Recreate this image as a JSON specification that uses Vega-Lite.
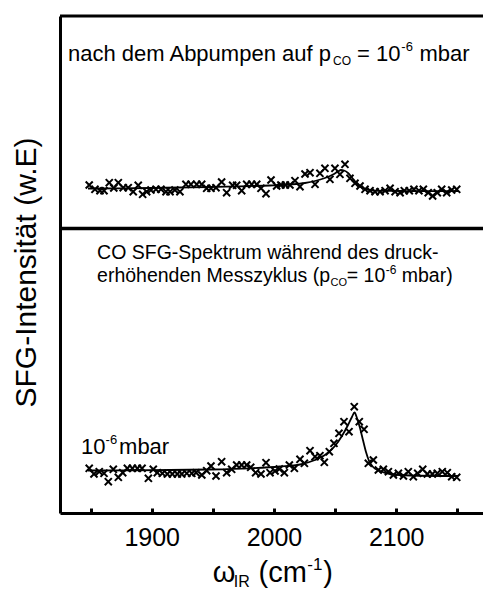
{
  "$schema": "https://vega.github.io/schema/vega-lite/v6.json",
  "width": 423,
  "height": 497,
  "autosize": "none",
  "padding": {"left": 60, "top": 16, "right": 0, "bottom": 78},
  "background": "white",
  "config": {"view": {"stroke": null}, "font": "Liberation Sans", "text": {"font": "Liberation Sans", "color": "black", "align": "left", "baseline": "alphabetic"}},
  "datasets": {
    "one": [{}],
    "top": [
      {"wavenumber": 1848.9, "intensity": 0.87}, {"wavenumber": 1853.6, "intensity": 0.784}, {"wavenumber": 1857.7, "intensity": 0.756}, {"wavenumber": 1861.0, "intensity": 0.756},
      {"wavenumber": 1865.3, "intensity": 0.916}, {"wavenumber": 1869.0, "intensity": 0.81}, {"wavenumber": 1872.7, "intensity": 0.916}, {"wavenumber": 1876.7, "intensity": 0.816},
      {"wavenumber": 1880.8, "intensity": 0.816}, {"wavenumber": 1884.9, "intensity": 0.736}, {"wavenumber": 1889.0, "intensity": 0.864}, {"wavenumber": 1892.6, "intensity": 0.684},
      {"wavenumber": 1895.9, "intensity": 0.736}, {"wavenumber": 1899.4, "intensity": 0.77}, {"wavenumber": 1903.5, "intensity": 0.784}, {"wavenumber": 1907.6, "intensity": 0.784},
      {"wavenumber": 1911.7, "intensity": 0.736}, {"wavenumber": 1915.0, "intensity": 0.736}, {"wavenumber": 1919.0, "intensity": 0.77}, {"wavenumber": 1923.1, "intensity": 0.736},
      {"wavenumber": 1928.0, "intensity": 0.884}, {"wavenumber": 1932.1, "intensity": 0.884}, {"wavenumber": 1936.8, "intensity": 0.884}, {"wavenumber": 1940.9, "intensity": 0.884},
      {"wavenumber": 1945.0, "intensity": 0.804}, {"wavenumber": 1948.5, "intensity": 0.804}, {"wavenumber": 1952.6, "intensity": 0.816}, {"wavenumber": 1957.2, "intensity": 0.93},
      {"wavenumber": 1961.3, "intensity": 0.716}, {"wavenumber": 1966.2, "intensity": 0.864}, {"wavenumber": 1969.5, "intensity": 0.864}, {"wavenumber": 1973.6, "intensity": 0.756},
      {"wavenumber": 1977.7, "intensity": 0.884}, {"wavenumber": 1981.8, "intensity": 0.884}, {"wavenumber": 1985.9, "intensity": 0.884}, {"wavenumber": 1989.4, "intensity": 0.804},
      {"wavenumber": 1993.5, "intensity": 0.696}, {"wavenumber": 1997.6, "intensity": 0.97}, {"wavenumber": 2002.2, "intensity": 0.85}, {"wavenumber": 2005.7, "intensity": 0.87},
      {"wavenumber": 2009.4, "intensity": 0.87}, {"wavenumber": 2013.1, "intensity": 0.87}, {"wavenumber": 2017.2, "intensity": 0.956}, {"wavenumber": 2021.3, "intensity": 0.836},
      {"wavenumber": 2025.4, "intensity": 1.09}, {"wavenumber": 2029.5, "intensity": 1.116}, {"wavenumber": 2033.6, "intensity": 0.884}, {"wavenumber": 2037.6, "intensity": 1.104},
      {"wavenumber": 2041.7, "intensity": 1.204}, {"wavenumber": 2045.8, "intensity": 0.984}, {"wavenumber": 2049.9, "intensity": 1.204}, {"wavenumber": 2054.0, "intensity": 1.084},
      {"wavenumber": 2058.1, "intensity": 1.284}, {"wavenumber": 2062.2, "intensity": 1.004}, {"wavenumber": 2066.3, "intensity": 0.904}, {"wavenumber": 2070.4, "intensity": 0.85},
      {"wavenumber": 2074.5, "intensity": 0.784}, {"wavenumber": 2078.6, "intensity": 0.756}, {"wavenumber": 2082.7, "intensity": 0.736}, {"wavenumber": 2086.8, "intensity": 0.736},
      {"wavenumber": 2090.9, "intensity": 0.756}, {"wavenumber": 2095.0, "intensity": 0.804}, {"wavenumber": 2099.1, "intensity": 0.736}, {"wavenumber": 2103.2, "intensity": 0.716},
      {"wavenumber": 2106.6, "intensity": 0.756}, {"wavenumber": 2110.7, "intensity": 0.756}, {"wavenumber": 2114.5, "intensity": 0.784}, {"wavenumber": 2118.6, "intensity": 0.756},
      {"wavenumber": 2122.2, "intensity": 0.784}, {"wavenumber": 2126.2, "intensity": 0.716}, {"wavenumber": 2129.8, "intensity": 0.65}, {"wavenumber": 2133.6, "intensity": 0.716},
      {"wavenumber": 2137.2, "intensity": 0.784}, {"wavenumber": 2141.3, "intensity": 0.716}, {"wavenumber": 2145.4, "intensity": 0.77}, {"wavenumber": 2149.5, "intensity": 0.784}
    ],
    "topfit": [
      {"wavenumber": 1847.9, "intensity": 0.80}, {"wavenumber": 1874.0, "intensity": 0.804}, {"wavenumber": 1898.6, "intensity": 0.81}, {"wavenumber": 1923.1, "intensity": 0.82},
      {"wavenumber": 1947.6, "intensity": 0.83}, {"wavenumber": 1972.2, "intensity": 0.844}, {"wavenumber": 1996.7, "intensity": 0.86}, {"wavenumber": 2013.1, "intensity": 0.88},
      {"wavenumber": 2025.4, "intensity": 0.91}, {"wavenumber": 2033.6, "intensity": 0.95}, {"wavenumber": 2041.7, "intensity": 1.01}, {"wavenumber": 2048.3, "intensity": 1.08},
      {"wavenumber": 2052.4, "intensity": 1.14}, {"wavenumber": 2054.8, "intensity": 1.17}, {"wavenumber": 2057.3, "intensity": 1.16}, {"wavenumber": 2060.6, "intensity": 1.11},
      {"wavenumber": 2063.8, "intensity": 1.02}, {"wavenumber": 2067.1, "intensity": 0.92}, {"wavenumber": 2070.4, "intensity": 0.84}, {"wavenumber": 2074.5, "intensity": 0.79},
      {"wavenumber": 2078.6, "intensity": 0.766}, {"wavenumber": 2086.8, "intensity": 0.754}, {"wavenumber": 2103.2, "intensity": 0.75}, {"wavenumber": 2127.7, "intensity": 0.746},
      {"wavenumber": 2150.6, "intensity": 0.746}
    ],
    "bottom": [
      {"wavenumber": 1848.9, "intensity": 0.894}, {"wavenumber": 1852.8, "intensity": 0.78}, {"wavenumber": 1857.1, "intensity": 0.826}, {"wavenumber": 1861.0, "intensity": 0.794},
      {"wavenumber": 1864.5, "intensity": 0.626}, {"wavenumber": 1868.6, "intensity": 0.874}, {"wavenumber": 1872.7, "intensity": 0.714}, {"wavenumber": 1876.3, "intensity": 0.806},
      {"wavenumber": 1880.1, "intensity": 0.894}, {"wavenumber": 1884.2, "intensity": 0.894}, {"wavenumber": 1888.3, "intensity": 0.894}, {"wavenumber": 1892.1, "intensity": 0.894},
      {"wavenumber": 1897.3, "intensity": 0.694}, {"wavenumber": 1901.3, "intensity": 0.874}, {"wavenumber": 1904.6, "intensity": 0.806}, {"wavenumber": 1908.7, "intensity": 0.794},
      {"wavenumber": 1912.8, "intensity": 0.78}, {"wavenumber": 1916.9, "intensity": 0.78}, {"wavenumber": 1921.0, "intensity": 0.78}, {"wavenumber": 1924.6, "intensity": 0.78},
      {"wavenumber": 1928.7, "intensity": 0.794}, {"wavenumber": 1932.8, "intensity": 0.794}, {"wavenumber": 1936.3, "intensity": 0.806}, {"wavenumber": 1941.0, "intensity": 0.76},
      {"wavenumber": 1945.0, "intensity": 0.846}, {"wavenumber": 1948.5, "intensity": 0.94}, {"wavenumber": 1952.6, "intensity": 0.74}, {"wavenumber": 1957.2, "intensity": 1.026},
      {"wavenumber": 1961.3, "intensity": 0.806}, {"wavenumber": 1965.4, "intensity": 0.874}, {"wavenumber": 1969.5, "intensity": 0.96}, {"wavenumber": 1973.6, "intensity": 0.96},
      {"wavenumber": 1977.7, "intensity": 0.96}, {"wavenumber": 1981.0, "intensity": 0.914}, {"wavenumber": 1985.0, "intensity": 0.806}, {"wavenumber": 1989.4, "intensity": 0.78},
      {"wavenumber": 1993.5, "intensity": 1.006}, {"wavenumber": 1996.8, "intensity": 0.806}, {"wavenumber": 2000.9, "intensity": 0.84}, {"wavenumber": 2004.4, "intensity": 0.88},
      {"wavenumber": 2008.5, "intensity": 0.806}, {"wavenumber": 2012.6, "intensity": 0.96}, {"wavenumber": 2016.7, "intensity": 0.894}, {"wavenumber": 2021.3, "intensity": 1.074},
      {"wavenumber": 2024.9, "intensity": 0.994}, {"wavenumber": 2029.5, "intensity": 1.246}, {"wavenumber": 2033.6, "intensity": 1.126}, {"wavenumber": 2037.6, "intensity": 1.146},
      {"wavenumber": 2041.2, "intensity": 1.014}, {"wavenumber": 2045.3, "intensity": 1.226}, {"wavenumber": 2049.1, "intensity": 1.394}, {"wavenumber": 2053.2, "intensity": 1.594},
      {"wavenumber": 2057.3, "intensity": 1.826}, {"wavenumber": 2061.4, "intensity": 1.626}, {"wavenumber": 2065.7, "intensity": 2.126}, {"wavenumber": 2069.8, "intensity": 1.826},
      {"wavenumber": 2073.7, "intensity": 1.674}, {"wavenumber": 2077.2, "intensity": 0.994}, {"wavenumber": 2081.3, "intensity": 1.06}, {"wavenumber": 2085.4, "intensity": 0.86},
      {"wavenumber": 2089.5, "intensity": 0.874}, {"wavenumber": 2093.6, "intensity": 0.826}, {"wavenumber": 2097.7, "intensity": 0.76}, {"wavenumber": 2101.8, "intensity": 0.794},
      {"wavenumber": 2105.9, "intensity": 0.74}, {"wavenumber": 2109.9, "intensity": 0.826}, {"wavenumber": 2114.0, "intensity": 0.726}, {"wavenumber": 2117.6, "intensity": 0.794},
      {"wavenumber": 2121.7, "intensity": 0.874}, {"wavenumber": 2125.5, "intensity": 0.78}, {"wavenumber": 2129.6, "intensity": 0.78}, {"wavenumber": 2133.6, "intensity": 0.794},
      {"wavenumber": 2137.7, "intensity": 0.826}, {"wavenumber": 2141.8, "intensity": 0.806}, {"wavenumber": 2145.4, "intensity": 0.726}, {"wavenumber": 2149.5, "intensity": 0.714}
    ],
    "bottomfit": [
      {"wavenumber": 1847.9, "intensity": 0.85}, {"wavenumber": 1882.2, "intensity": 0.854}, {"wavenumber": 1914.9, "intensity": 0.86}, {"wavenumber": 1947.6, "intensity": 0.87},
      {"wavenumber": 1980.3, "intensity": 0.894}, {"wavenumber": 2004.9, "intensity": 0.93}, {"wavenumber": 2021.3, "intensity": 0.97}, {"wavenumber": 2033.6, "intensity": 1.06},
      {"wavenumber": 2041.7, "intensity": 1.16}, {"wavenumber": 2049.9, "intensity": 1.34}, {"wavenumber": 2055.6, "intensity": 1.54}, {"wavenumber": 2060.6, "intensity": 1.76},
      {"wavenumber": 2063.8, "intensity": 1.92}, {"wavenumber": 2065.9, "intensity": 2.01}, {"wavenumber": 2067.9, "intensity": 1.90}, {"wavenumber": 2070.4, "intensity": 1.70},
      {"wavenumber": 2072.8, "intensity": 1.46}, {"wavenumber": 2075.3, "intensity": 1.22}, {"wavenumber": 2077.8, "intensity": 1.04}, {"wavenumber": 2081.1, "intensity": 0.92},
      {"wavenumber": 2086.8, "intensity": 0.84}, {"wavenumber": 2095.0, "intensity": 0.78}, {"wavenumber": 2111.4, "intensity": 0.75}, {"wavenumber": 2150.6, "intensity": 0.74}
    ]
  },
  "layer": [
    {
      "layer": [
        {
          "data": {"name": "bottom"},
          "mark": {"type": "point", "shape": "M-1,-1L1,1M-1,1L1,-1", "filled": false, "color": "black", "strokeWidth": 2, "size": 50, "opacity": 1},
          "encoding": {
            "x": {"field": "wavenumber", "type": "quantitative", "scale": {"domain": [1825, 2171], "nice": false, "zero": false},
              "axis": {"values": [1850, 1900, 1950, 2000, 2050, 2100, 2150], "format": "d", "labelExpr": "datum.value % 100 == 0 ? datum.label : ''",
                "title": null, "grid": false, "domainColor": "black", "domainWidth": 3, "tickColor": "black", "tickWidth": 3, "tickSize": -5,
                "labelFontSize": 25, "labelColor": "black", "labelFont": "Liberation Sans", "labelBaseline": "alphabetic", "labelPadding": 37, "labelFlush": false, "labelOverlap": false}},
            "y": {"field": "intensity", "type": "quantitative", "scale": {"domain": [0, 9.94], "nice": false, "zero": false},
              "axis": {"ticks": false, "labels": false, "grid": false, "domainColor": "black", "domainWidth": 3,
                "title": "SFG-Intensität (w.E)", "titleFontSize": 30, "titleFont": "Liberation Sans", "titleFontWeight": "normal", "titleColor": "black",
                "titleAngle": 270, "titleAlign": "center", "titleBaseline": "alphabetic", "titleX": -25, "titleY": 256}}
          }
        },
        {
          "data": {"name": "bottomfit"},
          "mark": {"type": "line", "color": "black", "strokeWidth": 1.8, "interpolate": "monotone"},
          "encoding": {
            "x": {"field": "wavenumber", "type": "quantitative"},
            "y": {"field": "intensity", "type": "quantitative"}
          }
        },
        {"data": {"name": "one"}, "mark": {"type": "text", "text": "CO SFG-Spektrum während des druck-", "fontSize": 19.5}, "encoding": {"x": {"datum": 1855.3}, "y": {"datum": 5.08}}},
        {"data": {"name": "one"}, "mark": {"type": "text", "text": "erhöhenden Messzyklus (p", "fontSize": 19.5}, "encoding": {"x": {"datum": 1855.3}, "y": {"datum": 4.62}}},
        {"data": {"name": "one"}, "mark": {"type": "text", "text": "CO", "fontSize": 11, "dy": 4}, "encoding": {"x": {"datum": 2046.3}, "y": {"datum": 4.62}}},
        {"data": {"name": "one"}, "mark": {"type": "text", "text": "= 10", "fontSize": 19.5}, "encoding": {"x": {"datum": 2059.6}, "y": {"datum": 4.62}}},
        {"data": {"name": "one"}, "mark": {"type": "text", "text": "-6", "fontSize": 12, "dy": -8}, "encoding": {"x": {"datum": 2091.5}, "y": {"datum": 4.62}}},
        {"data": {"name": "one"}, "mark": {"type": "text", "text": "mbar)", "fontSize": 19.5}, "encoding": {"x": {"datum": 2104.5}, "y": {"datum": 4.62}}},
        {"data": {"name": "one"}, "mark": {"type": "text", "text": "10", "fontSize": 22}, "encoding": {"x": {"datum": 1842.2}, "y": {"datum": 1.18}}},
        {"data": {"name": "one"}, "mark": {"type": "text", "text": "-6", "fontSize": 13, "dy": -10}, "encoding": {"x": {"datum": 1862.3}, "y": {"datum": 1.18}}},
        {"data": {"name": "one"}, "mark": {"type": "text", "text": "mbar", "fontSize": 22}, "encoding": {"x": {"datum": 1873.3}, "y": {"datum": 1.18}}},
        {"data": {"name": "one"}, "mark": {"type": "text", "text": "ω", "fontSize": 29}, "encoding": {"x": {"datum": 1950.0}, "y": {"datum": -1.38}}},
        {"data": {"name": "one"}, "mark": {"type": "text", "text": "IR", "fontSize": 16, "dy": 5}, "encoding": {"x": {"datum": 1967.2}, "y": {"datum": -1.38}}},
        {"data": {"name": "one"}, "mark": {"type": "text", "text": "(cm", "fontSize": 29}, "encoding": {"x": {"datum": 1987.4}, "y": {"datum": -1.38}}},
        {"data": {"name": "one"}, "mark": {"type": "text", "text": "-1", "fontSize": 17, "dy": -12}, "encoding": {"x": {"datum": 2027.3}, "y": {"datum": -1.38}}},
        {"data": {"name": "one"}, "mark": {"type": "text", "text": ")", "fontSize": 29}, "encoding": {"x": {"datum": 2040.3}, "y": {"datum": -1.38}}}
      ]
    },
    {
      "layer": [
        {
          "data": {"name": "top"},
          "mark": {"type": "point", "shape": "M-1,-1L1,1M-1,1L1,-1", "filled": false, "color": "black", "strokeWidth": 2, "size": 50, "opacity": 1},
          "encoding": {
            "x": {"field": "wavenumber", "type": "quantitative"},
            "y": {"field": "intensity", "type": "quantitative", "scale": {"domain": [-5.69, 4.25], "nice": false, "zero": false}, "axis": null}
          }
        },
        {
          "data": {"name": "topfit"},
          "mark": {"type": "line", "color": "black", "strokeWidth": 1.8, "interpolate": "monotone"},
          "encoding": {
            "x": {"field": "wavenumber", "type": "quantitative"},
            "y": {"field": "intensity", "type": "quantitative", "axis": null}
          }
        },
        {"data": {"name": "one"}, "mark": {"type": "rule", "color": "black", "strokeWidth": 3.5}, "encoding": {"y": {"datum": 0}}},
        {"data": {"name": "one"}, "mark": {"type": "rule", "color": "black", "strokeWidth": 3}, "encoding": {"y": {"datum": 4.25}}},
        {"data": {"name": "one"}, "mark": {"type": "text", "text": "nach dem Abpumpen auf p", "fontSize": 22}, "encoding": {"x": {"datum": 1831.5}, "y": {"datum": 3.35}}},
        {"data": {"name": "one"}, "mark": {"type": "text", "text": "CO", "fontSize": 12, "dy": 4}, "encoding": {"x": {"datum": 2048.3}, "y": {"datum": 3.35}}},
        {"data": {"name": "one"}, "mark": {"type": "text", "text": "= 10", "fontSize": 22}, "encoding": {"x": {"datum": 2068.0}, "y": {"datum": 3.35}}},
        {"data": {"name": "one"}, "mark": {"type": "text", "text": "-6", "fontSize": 13, "dy": -10}, "encoding": {"x": {"datum": 2104.2}, "y": {"datum": 3.35}}},
        {"data": {"name": "one"}, "mark": {"type": "text", "text": "mbar", "fontSize": 22}, "encoding": {"x": {"datum": 2119.0}, "y": {"datum": 3.35}}}
      ]
    }
  ],
  "resolve": {"scale": {"y": "independent"}}
}
